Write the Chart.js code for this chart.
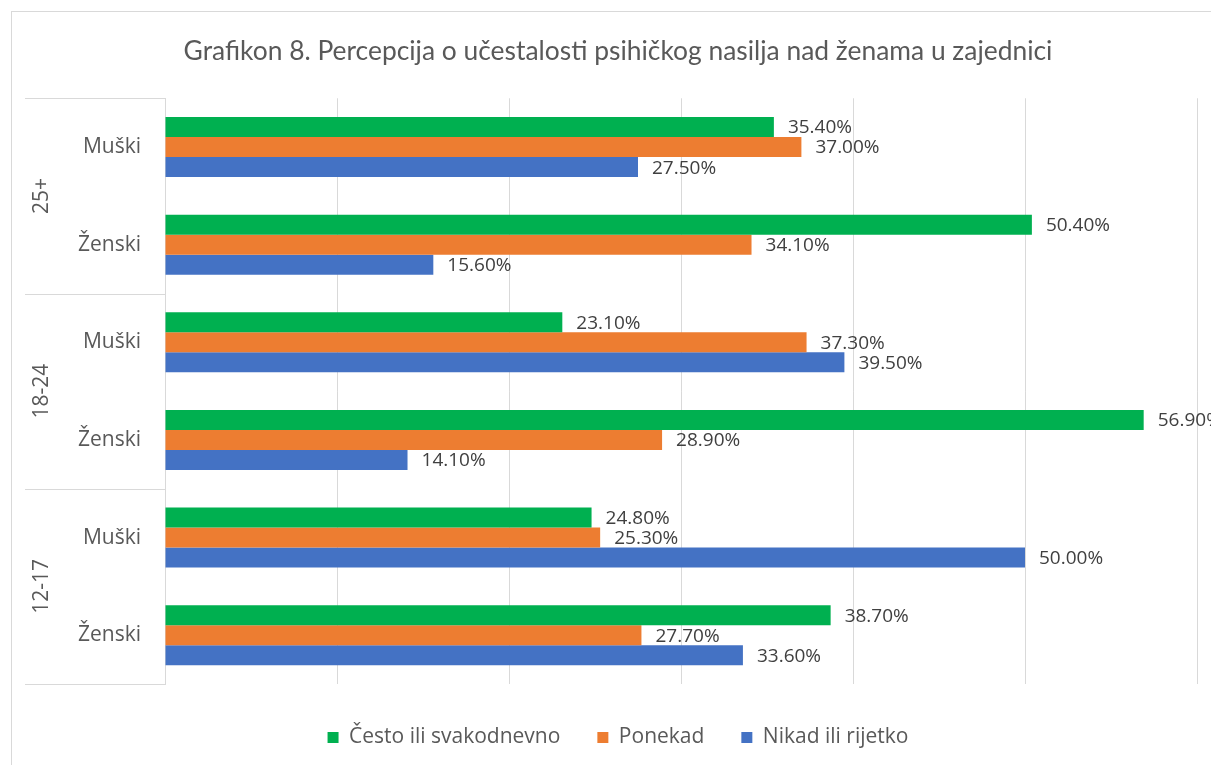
<!DOCTYPE html>
<html>
<head>
<meta charset="utf-8">
<script src="https://cdn.jsdelivr.net/npm/chart.js@4"></script>
<style>
    html, body { margin: 0; padding: 0; background: #fff; overflow: hidden; }
    #wrap { width: 1225px; height: 765px; position: relative; }
</style>
</head>
<body>
<div id="wrap"><canvas id="grafikon"></canvas></div>
<script>
const naslov = 'Grafikon 8. Percepcija o učestalosti psihičkog nasilja nad ženama u zajednici';
const grupe = ['25+', '18-24', '12-17'];
const spolovi = ['Muški', 'Ženski'];
const serije = ['Često ili svakodnevno', 'Ponekad', 'Nikad ili rijetko'];
const boje = ['#00b050', '#ed7d31', '#4472c4'];

const cesto = [35.4, 50.4, 23.1, 56.9, 24.8, 38.7];
const ponekad = [37.0, 34.1, 37.3, 28.9, 25.3, 27.7];
const nikad = [27.5, 15.6, 39.5, 14.1, 50.0, 33.6];

const kategorije = [];
grupe.forEach(g => spolovi.forEach(s => kategorije.push(s)));

const FONT_NASLOV = 'Lato, sans-serif';
const FONT = '"Open Sans", "Noto Sans", sans-serif';

const okvir = {
    id: 'okvir',
    beforeDraw(chart) {
        const ctx = chart.ctx;
        ctx.save();
        ctx.fillStyle = '#fff';
        ctx.fillRect(0, 0, chart.width, chart.height);
        ctx.strokeStyle = '#d9d9d9';
        ctx.lineWidth = 1;
        ctx.strokeRect(11.5, 11.5, 2000, 2000);
        ctx.restore();
    }
};

const oznakeGrupa = {
    id: 'oznakeGrupa',
    afterDraw(chart) {
        const ctx = chart.ctx;
        const y = chart.scales.y;
        const area = chart.chartArea;
        const half = (y.getPixelForValue(1) - y.getPixelForValue(0)) / 2;
        ctx.save();
        ctx.strokeStyle = '#d9d9d9';
        ctx.lineWidth = 1;
        for (let i = 0; i <= grupe.length; i++) {
            let py = i === grupe.length ? area.bottom : y.getPixelForValue(i * 2) - half;
            py = Math.round(py) + 0.5;
            ctx.beginPath();
            ctx.moveTo(25, py);
            ctx.lineTo(area.left, py);
            ctx.stroke();
        }
        ctx.fillStyle = '#595959';
        ctx.font = '21px ' + FONT;
        ctx.textAlign = 'center';
        ctx.textBaseline = 'middle';
        grupe.forEach((g, i) => {
            const cy = (y.getPixelForValue(i * 2) + y.getPixelForValue(i * 2 + 1)) / 2;
            ctx.save();
            ctx.translate(42, cy);
            ctx.rotate(-Math.PI / 2);
            ctx.fillText(g, 0, 0);
            ctx.restore();
        });
        ctx.restore();
    }
};

const vrijednosti = {
    id: 'vrijednosti',
    afterDatasetsDraw(chart) {
        const ctx = chart.ctx;
        ctx.save();
        ctx.fillStyle = '#404040';
        ctx.font = '19px ' + FONT;
        ctx.textAlign = 'left';
        ctx.textBaseline = 'middle';
        chart.data.datasets.forEach((ds, di) => {
            chart.getDatasetMeta(di).data.forEach((bar, i) => {
                ctx.fillText(ds.data[i].toFixed(2) + '%', bar.x + 14, bar.y + 1);
            });
        });
        ctx.restore();
    }
};

new Chart(document.getElementById('grafikon'), {
    type: 'bar',
    data: {
        labels: kategorije,
        datasets: [
            { label: serije[0], data: cesto, backgroundColor: boje[0] },
            { label: serije[1], data: ponekad, backgroundColor: boje[1] },
            { label: serije[2], data: nikad, backgroundColor: boje[2] }
        ]
    },
    options: {
        indexAxis: 'y',
        responsive: true,
        maintainAspectRatio: false,
        animation: false,
        categoryPercentage: 0.615,
        barPercentage: 1,
        layout: { padding: { top: 0, left: 39, right: 28, bottom: 7 } },
        plugins: {
            title: {
                display: true,
                text: naslov,
                color: '#595959',
                font: { family: FONT_NASLOV, size: 26.4, weight: 'normal' },
                padding: { top: 36, bottom: 30.6 }
            },
            legend: {
                position: 'bottom',
                labels: {
                    color: '#595959',
                    font: { family: FONT, size: 21 },
                    boxWidth: 11,
                    boxHeight: 11,
                    padding: 37
                }
            },
            tooltip: { enabled: false }
        },
        scales: {
            x: {
                min: 0,
                max: 60,
                ticks: { display: false, stepSize: 10 },
                grid: { color: '#d9d9d9', drawTicks: false },
                border: { display: false },
                afterFit: (s) => { s.height = 6; }
            },
            y: {
                grid: { display: false, drawTicks: false },
                border: { display: true, color: '#d9d9d9' },
                ticks: { color: '#595959', font: { family: FONT, size: 21 }, padding: 24 },
                afterFit: (s) => { s.width = 126; }
            }
        }
    },
    plugins: [okvir, oznakeGrupa, vrijednosti]
});
</script>
</body>
</html>
